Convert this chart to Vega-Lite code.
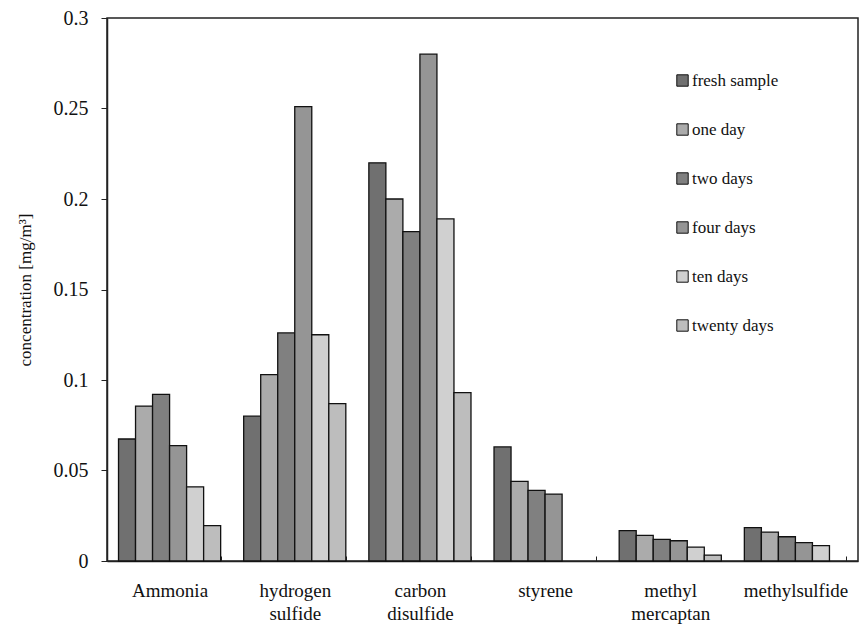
{
  "$schema": "https://vega.github.io/schema/vega-lite/v6.json",
  "width": 751,
  "height": 543,
  "autosize": {"type": "none"},
  "padding": {"left": 107, "top": 18, "right": 8, "bottom": 67},
  "background": "white",
  "data": {
    "values": [
      {"compound": "Ammonia", "sample": "fresh sample", "value": 0.0674},
      {"compound": "Ammonia", "sample": "one day", "value": 0.0856},
      {"compound": "Ammonia", "sample": "two days", "value": 0.0921},
      {"compound": "Ammonia", "sample": "four days", "value": 0.0637},
      {"compound": "Ammonia", "sample": "ten days", "value": 0.041},
      {"compound": "Ammonia", "sample": "twenty days", "value": 0.0195},
      {"compound": "hydrogen sulfide", "sample": "fresh sample", "value": 0.080},
      {"compound": "hydrogen sulfide", "sample": "one day", "value": 0.103},
      {"compound": "hydrogen sulfide", "sample": "two days", "value": 0.126},
      {"compound": "hydrogen sulfide", "sample": "four days", "value": 0.251},
      {"compound": "hydrogen sulfide", "sample": "ten days", "value": 0.125},
      {"compound": "hydrogen sulfide", "sample": "twenty days", "value": 0.087},
      {"compound": "carbon disulfide", "sample": "fresh sample", "value": 0.220},
      {"compound": "carbon disulfide", "sample": "one day", "value": 0.200},
      {"compound": "carbon disulfide", "sample": "two days", "value": 0.182},
      {"compound": "carbon disulfide", "sample": "four days", "value": 0.280},
      {"compound": "carbon disulfide", "sample": "ten days", "value": 0.189},
      {"compound": "carbon disulfide", "sample": "twenty days", "value": 0.093},
      {"compound": "styrene", "sample": "fresh sample", "value": 0.063},
      {"compound": "styrene", "sample": "one day", "value": 0.044},
      {"compound": "styrene", "sample": "two days", "value": 0.039},
      {"compound": "styrene", "sample": "four days", "value": 0.037},
      {"compound": "methyl mercaptan", "sample": "fresh sample", "value": 0.0168},
      {"compound": "methyl mercaptan", "sample": "one day", "value": 0.0142},
      {"compound": "methyl mercaptan", "sample": "two days", "value": 0.012},
      {"compound": "methyl mercaptan", "sample": "four days", "value": 0.0112},
      {"compound": "methyl mercaptan", "sample": "ten days", "value": 0.0077},
      {"compound": "methyl mercaptan", "sample": "twenty days", "value": 0.0033},
      {"compound": "methylsulfide", "sample": "fresh sample", "value": 0.0184},
      {"compound": "methylsulfide", "sample": "one day", "value": 0.016},
      {"compound": "methylsulfide", "sample": "two days", "value": 0.0134},
      {"compound": "methylsulfide", "sample": "four days", "value": 0.0101},
      {"compound": "methylsulfide", "sample": "ten days", "value": 0.0085}
    ]
  },
  "mark": {"type": "bar", "stroke": "#111111", "strokeWidth": 1.3},
  "encoding": {
    "x": {
      "field": "compound",
      "type": "nominal",
      "sort": ["Ammonia", "hydrogen sulfide", "carbon disulfide", "styrene", "methyl mercaptan", "methylsulfide"],
      "scale": {"paddingInner": 0.184, "paddingOuter": 0.092},
      "axis": {
        "title": null,
        "labelAngle": 0,
        "labelExpr": "split(datum.label, ' ')",
        "labelFont": "Liberation Serif",
        "labelFontSize": 19,
        "labelColor": "#111111",
        "labelLineHeight": 23,
        "labelPadding": 25,
        "tickBand": "extent",
        "tickSize": -5,
        "tickColor": "#222222",
        "domainColor": "#222222",
        "domainWidth": 1.5
      }
    },
    "xOffset": {
      "field": "sample",
      "type": "nominal",
      "sort": ["fresh sample", "one day", "two days", "four days", "ten days", "twenty days"],
      "scale": {"paddingInner": 0, "paddingOuter": 0}
    },
    "y": {
      "field": "value",
      "type": "quantitative",
      "scale": {"domain": [0, 0.3], "nice": false},
      "axis": {
        "title": "concentration [mg/m³]",
        "titleFont": "Liberation Serif",
        "titleFontSize": 17,
        "titleFontWeight": "normal",
        "titleColor": "#111111",
        "titlePadding": 19,
        "values": [0, 0.05, 0.1, 0.15, 0.2, 0.25, 0.3],
        "format": "~g",
        "labelFont": "Liberation Serif",
        "labelFontSize": 20,
        "labelColor": "#111111",
        "labelPadding": 13,
        "tickSize": 6,
        "tickColor": "#222222",
        "domainColor": "#222222",
        "domainWidth": 1.5,
        "grid": false
      }
    },
    "fill": {
      "field": "sample",
      "type": "nominal",
      "sort": ["fresh sample", "one day", "two days", "four days", "ten days", "twenty days"],
      "scale": {
        "domain": ["fresh sample", "one day", "two days", "four days", "ten days", "twenty days"],
        "range": ["#707070", "#ababab", "#808080", "#959595", "#d0d0d0", "#bdbdbd"]
      },
      "legend": {
        "title": null,
        "orient": "none",
        "legendX": 567,
        "legendY": 54,
        "padding": 0,
        "symbolType": "square",
        "symbolSize": 130,
        "symbolStrokeColor": "#111111",
        "symbolStrokeWidth": 1,
        "labelFont": "Liberation Serif",
        "labelFontSize": 17,
        "labelColor": "#111111",
        "labelOffset": 1,
        "rowPadding": 31
      }
    }
  },
  "config": {
    "view": {"stroke": "#222222", "strokeWidth": 1.5}
  }
}
